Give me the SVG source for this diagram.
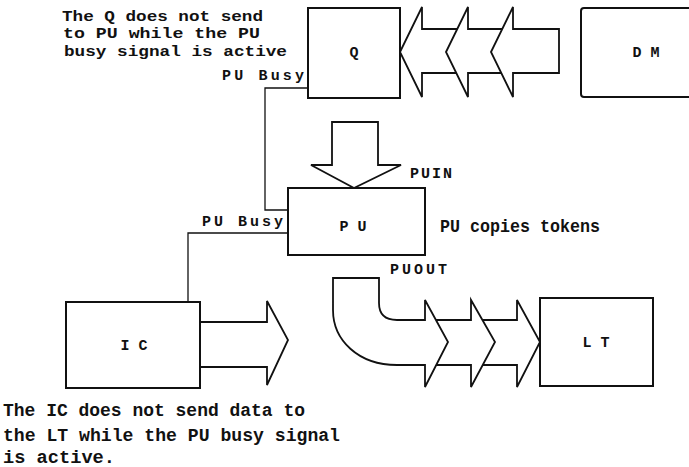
<svg xmlns="http://www.w3.org/2000/svg" width="689" height="467" viewBox="0 0 689 467">
<style>
.box{fill:#fff;stroke:#111;stroke-width:2}
.arr{fill:#fff;stroke:#111;stroke-width:1.8;stroke-linejoin:miter}
.wire{fill:none;stroke:#111;stroke-width:1.3}
text{font-family:"Liberation Mono","DejaVu Sans Mono",monospace;font-weight:bold;fill:#111}
.lbl{font-size:15px}
.note{font-size:17.5px}
.top{font-size:15.5px}
</style>
<rect width="689" height="467" fill="#fff"/>
<g id="connectors">
  <path class="wire" d="M308,88 H265 V210 H288"/>
  <path class="wire" d="M288,233 H188 V302"/>
  <polygon class="arr" points="400,52 422,7 422,29 462,29 462,73 422,73 422,97"/>
  <polygon class="arr" points="446,52 468,7 468,29 507,29 507,73 468,73 468,97"/>
  <polygon class="arr" points="491,52 513,7 513,29 559,29 559,73 513,73 513,97"/>
  <polygon class="arr" points="332,122 378,122 378,165 401,165 354,188 311,165 332,165"/>
  <polygon class="arr" points="200,322 267,322 267,301 288,340 267,385 267,367 200,367"/>
  <polygon class="arr" points="517,320 517,300 540,342 517,387 517,365 478,365 478,320"/>
  <polygon class="arr" points="471,320 471,300 495,342 471,387 471,365 430,365 430,320"/>
  <path class="arr" d="M333,278 H379 V303 Q379,320 397,320 H425 V300 L448,342 L425,387 V365 H397 C358,365 333,340 333,310 Z"/>
</g>
<g id="Q"><rect class="box" x="308" y="8" width="92" height="90"/><text class="lbl" x="354" y="57" text-anchor="middle">Q</text></g>
<g id="DM"><rect class="box" x="581" y="8" width="120" height="89" rx="3"/><text class="lbl" x="646" y="57" text-anchor="middle">D M</text></g>
<g id="PU"><rect class="box" x="288" y="188" width="137" height="67"/><text class="lbl" x="353" y="231" text-anchor="middle">P U</text></g>
<g id="IC"><rect class="box" x="66" y="302" width="134" height="86"/><text class="lbl" x="134" y="350" text-anchor="middle">I C</text></g>
<g id="LT"><rect class="box" x="540" y="298" width="113" height="88"/><text class="lbl" x="596" y="347" text-anchor="middle">L T</text></g>
<g id="labels">
  <text class="lbl" x="222" y="80" textLength="82" lengthAdjust="spacing">PU Busy</text>
  <text class="lbl" x="202" y="226" textLength="81" lengthAdjust="spacing">PU Busy</text>
  <text class="lbl" x="410" y="178" textLength="42" lengthAdjust="spacing">PUIN</text>
  <text class="lbl" x="390" y="274" textLength="57" lengthAdjust="spacing">PUOUT</text>
  <text class="note" x="440" y="232" textLength="160" lengthAdjust="spacingAndGlyphs">PU copies tokens</text>
  <text class="top" x="62" y="21" textLength="201" lengthAdjust="spacingAndGlyphs">The Q does not send</text>
  <text class="top" x="63" y="38" textLength="197" lengthAdjust="spacingAndGlyphs">to PU while the PU</text>
  <text class="top" x="64" y="56" textLength="223" lengthAdjust="spacingAndGlyphs">busy signal is active</text>
  <text class="note" x="3" y="416" textLength="302" lengthAdjust="spacingAndGlyphs">The IC does not send data to</text>
  <text class="note" x="3" y="441" textLength="337" lengthAdjust="spacingAndGlyphs">the LT while the PU busy signal</text>
  <text class="note" x="3" y="463" textLength="112" lengthAdjust="spacingAndGlyphs">is active.</text>
</g>
</svg>
